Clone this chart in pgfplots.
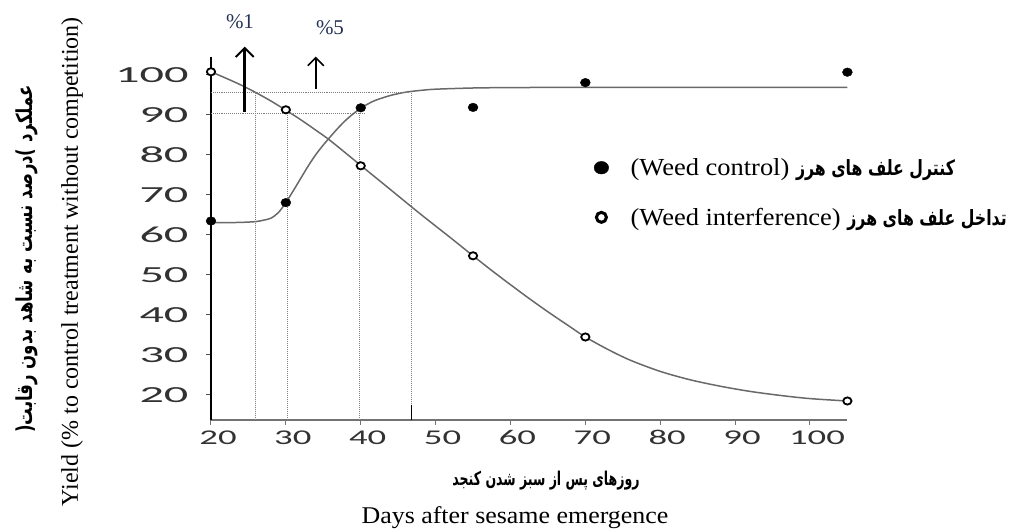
\documentclass[border=0pt]{standalone}
\usepackage{pgfplots}
\pgfplotsset{compat=1.18}
\usetikzlibrary{arrows.meta}
\usepackage{fontspec}
\setmainfont{Liberation Serif}
\newfontfamily\tms{Liberation Serif}[FakeStretch=1.08]
\newfontfamily\tickf{Carlito}[FakeStretch=1.75]
\newfontfamily\tickg{Carlito}[FakeStretch=2.1]
\newfontfamily\fa[Script=Arabic, FakeStretch=0.75]{DejaVu Sans}
\newfontfamily\fax[Script=Arabic, FakeStretch=0.66]{DejaVu Sans}
\TeXXeTstate=1
\definecolor{curve}{RGB}{105,105,105}
\definecolor{navy}{RGB}{35,50,85}
\definecolor{tlab}{RGB}{50,50,50}
\begin{document}
\begin{tikzpicture}
\begin{axis}[
  scale only axis, width=636.4pt, height=363pt,
  xmin=20, xmax=105, ymin=13.75, ymax=104.5,
  axis x line*=bottom, axis y line*=left,
  x axis line style={-, black!55, line width=1.6pt},
  y axis line style={-, black, line width=1.6pt},
  xtick={20,30,...,100}, ytick={20,30,...,100},
  tick align=outside, major tick length=5pt,
  xtick style={black!55, line width=1pt},
  ytick style={black!70, line width=1pt},
  /pgf/number format/assume math mode=true,
  xticklabel style={font=\tickf\fontsize{21}{21}\selectfont, text=tlab, xshift=7pt, yshift=-2pt},
  yticklabel style={font=\tickg\fontsize{23}{23}\selectfont, text=tlab, xshift=-14pt},
  clip=false,
  legend style={draw=none, fill=none, at={(axis cs:71.15,70.6)}, anchor=west,
    font=\tms\fontsize{24.5}{24.5}\selectfont, row sep=31pt, inner sep=0pt,
    nodes={inner sep=0pt}, /tikz/every odd column/.append style={column sep=22pt}},
  legend cell align=left,
  legend image code/.code={\draw[#1] plot coordinates {(6pt,0pt)};},
]
\coordinate (LL) at (rel axis cs:0,0);
% fitted curves
\addplot[curve, line width=1.5pt, smooth, forget plot] coordinates {
(20,63.1)(22,63.1)(24,63.15)(26,63.35)(27,63.7)(28,64.2)(29,65.6)(30,68.1)(31,71.1)(32,74.2)(33,77.3)(34,80.1)(35,82.5)(36,84.7)(37,86.8)(38,88.7)(39,90.3)(40,91.7)(41,92.8)(42,93.7)(44,94.9)(46,95.7)(48,96.15)(50,96.45)(55,96.75)(60,96.85)(70,96.9)(105,96.9)};
\addplot[curve, line width=1.5pt, smooth, forget plot] coordinates {
(20,100.8)(22,99.2)(24,97.5)(26,95.6)(28,93.5)(30,91.2)(32,88.8)(34,86.2)(36,83.5)(40,77.4)(44,71.3)(48,65.2)(52,59.3)(55,54.8)(58,50.4)(62,44.8)(65,40.8)(68,37.0)(70,34.5)(73,31.4)(76,28.7)(80,25.9)(84,23.8)(88,22.2)(92,20.9)(96,19.9)(100,19.1)(105,18.5)};
% dotted reference lines
\addplot[black!50, densely dotted, line width=1.1pt, forget plot] coordinates {(20,95.6)(46.5,95.6)};
\addplot[black!50, densely dotted, line width=1.1pt, forget plot] coordinates {(20,90.4)(40.6,90.4)};
\addplot[black!50, densely dotted, line width=1pt, forget plot] coordinates {(25.9,95.6)(25.9,13.75)};
\addplot[black!50, densely dotted, line width=1pt, forget plot] coordinates {(30.2,90.4)(30.2,13.75)};
\addplot[black!50, densely dotted, line width=1pt, forget plot] coordinates {(39.8,90.4)(39.8,13.75)};
\addplot[black!50, densely dotted, line width=1pt, forget plot] coordinates {(46.8,95.6)(46.8,13.75)};
\addplot[black, line width=1.3pt, forget plot] coordinates {(46.8,13.75)(46.8,17.5)};
% data
\addplot[only marks, mark=*, mark size=4.3pt, mark options={fill=black, draw=black, xscale=1.15},
  legend image post style={mark size=6.3pt}] coordinates {
(20,63.5)(30,68.1)(40,91.8)(55,91.9)(70,98.1)(105,100.7)};
\addlegendentry{(Weed control) {\fa\bfseries\fontsize{21}{21}\selectfont\beginR کنترل علف های هرز\endR}}
\addplot[only marks, mark=*, mark size=3.6pt, mark options={fill=white, draw=black, line width=1.8pt, xscale=1.15},
  legend image post style={mark size=5pt, mark options={fill=white, draw=black, line width=3pt}}] coordinates {
(20,100.8)(30,91.3)(40,77.3)(55,54.8)(70,34.5)(105,18.5)};
\addlegendentry{(Weed interference) {\fa\bfseries\fontsize{21}{21}\selectfont\beginR تداخل علف های هرز\endR}}
% arrows
\draw[line width=3.5pt, -{Straight Barb[line width=2pt, length=9pt, width=18pt]}] (axis cs:24.5,90.8) -- (axis cs:24.5,107.1);
\draw[line width=1.6pt, -{Straight Barb[line width=1.6pt, length=8pt, width=16pt]}] (axis cs:34.0,96.4) -- (axis cs:34.0,104.6);
\end{axis}
\node[text=navy, font=\fontsize{21}{21}\selectfont] at ([shift={(29pt,398pt)}]LL) {\%1};
\node[text=navy, font=\fontsize{21}{21}\selectfont] at ([shift={(119pt,392pt)}]LL) {\%5};
\node[font=\fax\bfseries\fontsize{19}{19}\selectfont] at ([shift={(335pt,-61pt)}]LL) {\beginR روزهای پس از سبز شدن کنجد\endR};
\node[font=\tms\fontsize{24}{24}\selectfont] at ([shift={(304pt,-98pt)}]LL) {Days after sesame emergence};
\node[rotate=90, font=\fontsize{24}{24}\selectfont] at ([shift={(-139pt,158pt)}]LL) {Yield (\% to control treatment without competition)};
\node[rotate=90, font=\fa\bfseries\fontsize{22}{22}\selectfont] at ([shift={(-184pt,161pt)}]LL) {(\beginR درصد نسبت به شاهد بدون رقابت\endR) \beginR عملکرد\endR};
\pgfresetboundingbox
\path ([shift={(-211pt,-109pt)}]LL) rectangle ([shift={(809pt,420pt)}]LL);
\end{tikzpicture}
\end{document}
